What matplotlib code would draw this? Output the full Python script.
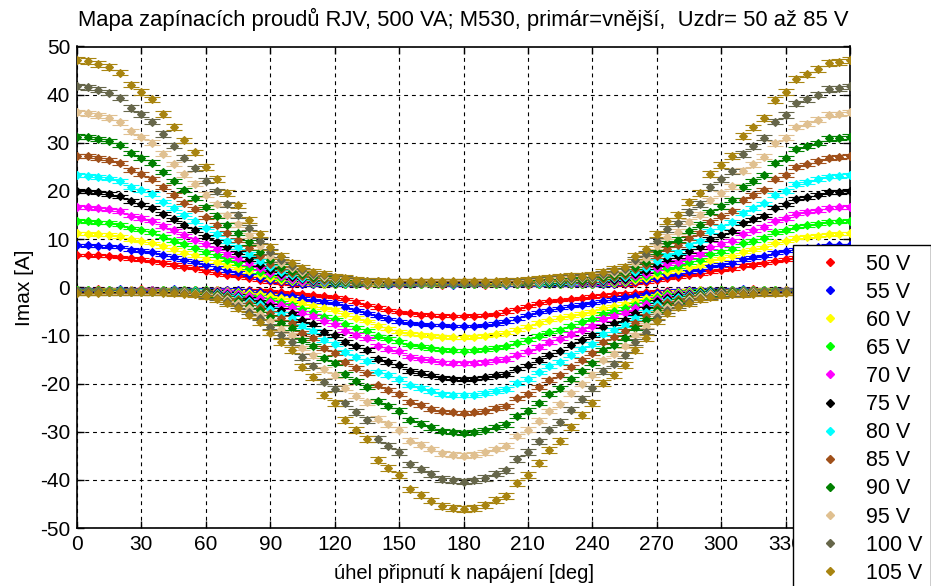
import matplotlib
matplotlib.use("Agg")
import matplotlib.pyplot as plt
from matplotlib.lines import Line2D

plt.rcParams['font.family'] = ['Liberation Sans', 'DejaVu Sans']
plt.rcParams['axes.unicode_minus'] = False

# switching angle, 0..360 deg in 5 deg steps
angle_deg = list(range(0, 361, 5))

voltage_labels = ['50 V', '55 V', '60 V', '65 V', '70 V', '75 V',
                  '80 V', '85 V', '90 V', '95 V', '100 V', '105 V']

# half-width of the error bars [A] for each supply voltage
err_amp = [0.25, 0.25, 0.3, 0.3, 0.35, 0.35, 0.4, 0.4, 0.45, 0.5, 0.55, 0.6]

# positive peak of the inrush current [A]
pos_50 = [6.7, 6.7, 6.6, 6.5, 6.3, 6.0, 5.8, 5.5, 5.1, 4.7, 4.3, 4.0,
          3.4, 3.0, 2.6, 2.3, 1.9, 1.5, 1.2, 0.9, 0.7, 0.6, 0.6, 0.6,
          0.6, 0.6, 0.6, 0.5, 0.6, 0.6, 0.5, 0.6, 0.6, 0.6, 0.5, 0.6,
          0.6, 0.6, 0.5, 0.6, 0.6, 0.6, 0.5, 0.6, 0.6, 0.6, 0.6, 0.6,
          0.6, 0.6, 0.6, 0.6, 0.9, 1.1, 1.6, 1.9, 2.1, 2.5, 2.8, 3.3,
          3.6, 3.9, 4.5, 4.7, 5.0, 5.5, 5.8, 6.2, 6.3, 6.4, 6.6, 6.6,
          6.7]
pos_55 = [8.8, 8.7, 8.6, 8.5, 8.3, 7.8, 7.6, 7.3, 6.7, 6.2, 5.7, 5.2,
          4.6, 4.1, 3.5, 3.1, 2.5, 2.0, 1.6, 1.2, 0.9, 0.7, 0.6, 0.6,
          0.6, 0.6, 0.6, 0.6, 0.6, 0.5, 0.6, 0.6, 0.6, 0.6, 0.6, 0.5,
          0.6, 0.6, 0.6, 0.6, 0.5, 0.6, 0.6, 0.6, 0.6, 0.6, 0.6, 0.6,
          0.6, 0.6, 0.7, 0.8, 1.2, 1.5, 2.0, 2.5, 2.8, 3.3, 3.6, 4.4,
          4.7, 5.1, 5.8, 6.2, 6.5, 7.2, 7.5, 8.0, 8.2, 8.4, 8.7, 8.7,
          8.8]
pos_60 = [11.2, 11.1, 11.0, 10.9, 10.6, 10.0, 9.6, 9.2, 8.5, 7.9, 7.2, 6.6,
          5.9, 5.3, 4.6, 4.0, 3.3, 2.6, 2.0, 1.5, 1.2, 1.0, 0.8, 0.7,
          0.7, 0.7, 0.7, 0.7, 0.6, 0.7, 0.7, 0.7, 0.7, 0.6, 0.7, 0.7,
          0.7, 0.7, 0.7, 0.6, 0.7, 0.7, 0.7, 0.7, 0.7, 0.7, 0.7, 0.7,
          0.7, 0.8, 0.9, 1.0, 1.5, 1.9, 2.6, 3.2, 3.6, 4.2, 4.6, 5.6,
          6.0, 6.5, 7.4, 7.9, 8.3, 9.2, 9.6, 10.3, 10.5, 10.7, 11.0, 11.1,
          11.2]
pos_65 = [13.8, 13.7, 13.5, 13.4, 13.0, 12.3, 11.9, 11.4, 10.5, 9.7, 8.9, 8.2,
          7.3, 6.6, 5.7, 5.0, 4.1, 3.2, 2.5, 1.9, 1.5, 1.2, 0.9, 0.8,
          0.7, 0.7, 0.7, 0.7, 0.7, 0.7, 0.7, 0.7, 0.7, 0.7, 0.7, 0.7,
          0.7, 0.7, 0.7, 0.7, 0.7, 0.7, 0.7, 0.7, 0.7, 0.7, 0.7, 0.7,
          0.7, 0.9, 1.1, 1.3, 1.9, 2.3, 3.2, 4.0, 4.4, 5.2, 5.7, 6.9,
          7.4, 8.0, 9.2, 9.7, 10.3, 11.4, 11.8, 12.6, 12.9, 13.2, 13.6, 13.7,
          13.8]
pos_70 = [16.7, 16.6, 16.4, 16.2, 15.8, 14.9, 14.4, 13.8, 12.7, 11.8, 10.8, 9.9,
          8.9, 8.0, 6.9, 6.0, 5.0, 3.9, 3.0, 2.3, 1.8, 1.4, 1.1, 1.0,
          0.8, 0.8, 0.8, 0.8, 0.8, 0.8, 0.8, 0.8, 0.8, 0.8, 0.8, 0.8,
          0.8, 0.8, 0.8, 0.8, 0.8, 0.8, 0.8, 0.8, 0.8, 0.8, 0.8, 0.8,
          0.9, 1.1, 1.3, 1.5, 2.3, 2.8, 3.9, 4.9, 5.3, 6.3, 6.9, 8.3,
          9.0, 9.7, 11.1, 11.8, 12.5, 13.8, 14.3, 15.3, 15.7, 16.0, 16.5, 16.6,
          16.7]
pos_75 = [20.0, 19.9, 19.7, 19.4, 18.9, 17.9, 17.2, 16.5, 15.3, 14.1, 12.9, 11.9,
          10.6, 9.5, 8.3, 7.2, 5.9, 4.7, 3.6, 2.8, 2.1, 1.7, 1.4, 1.2,
          0.9, 0.8, 0.8, 0.8, 0.8, 0.8, 0.8, 0.8, 0.8, 0.8, 0.8, 0.8,
          0.8, 0.8, 0.8, 0.8, 0.8, 0.8, 0.8, 0.8, 0.9, 0.9, 1.0, 1.0,
          1.1, 1.4, 1.6, 1.8, 2.8, 3.4, 4.7, 5.8, 6.4, 7.5, 8.3, 10.0,
          10.8, 11.6, 13.3, 14.1, 14.9, 16.5, 17.2, 18.4, 18.7, 19.2, 19.8, 19.8,
          20.0]
pos_80 = [23.3, 23.2, 22.9, 22.6, 22.0, 20.8, 20.1, 19.3, 17.8, 16.5, 15.1, 13.8,
          12.4, 11.1, 9.6, 8.4, 6.9, 5.4, 4.2, 3.2, 2.5, 2.0, 1.6, 1.4,
          1.1, 0.9, 0.9, 0.9, 0.9, 0.9, 0.9, 0.9, 0.9, 0.9, 0.9, 0.9,
          0.9, 0.9, 0.9, 0.9, 0.9, 0.9, 0.9, 0.9, 1.0, 1.1, 1.1, 1.2,
          1.2, 1.6, 1.9, 2.1, 3.2, 3.9, 5.4, 6.8, 7.4, 8.7, 9.7, 11.6,
          12.6, 13.5, 15.5, 16.4, 17.4, 19.2, 20.0, 21.4, 21.8, 22.4, 23.0, 23.1,
          23.3]
pos_85 = [27.3, 27.2, 26.8, 26.5, 25.8, 24.3, 23.5, 22.5, 20.8, 19.2, 17.6, 16.2,
          14.5, 13.0, 11.3, 9.8, 8.1, 6.4, 4.9, 3.8, 2.9, 2.3, 1.8, 1.6,
          1.3, 1.1, 0.9, 0.9, 0.9, 0.9, 0.9, 0.9, 0.9, 0.9, 0.9, 0.9,
          0.9, 0.9, 0.9, 0.9, 0.9, 0.9, 0.9, 1.0, 1.2, 1.3, 1.3, 1.4,
          1.4, 1.8, 2.2, 2.5, 3.8, 4.6, 6.4, 7.9, 8.7, 10.2, 11.3, 13.6,
          14.7, 15.8, 18.1, 19.2, 20.3, 22.5, 23.4, 25.0, 25.5, 26.2, 26.9, 27.0,
          27.3]
pos_90 = [31.3, 31.2, 30.8, 30.4, 29.6, 27.9, 26.9, 25.9, 23.9, 22.1, 20.2, 18.6,
          16.6, 14.9, 12.9, 11.3, 9.3, 7.3, 5.6, 4.3, 3.3, 2.7, 2.1, 1.9,
          1.5, 1.3, 1.1, 1.0, 1.0, 1.0, 1.0, 1.0, 1.0, 1.0, 1.0, 1.0,
          1.0, 1.0, 1.0, 1.0, 1.0, 1.0, 1.1, 1.2, 1.3, 1.5, 1.5, 1.6,
          1.7, 2.1, 2.5, 2.9, 4.3, 5.2, 7.3, 9.1, 9.9, 11.7, 13.0, 15.6,
          16.8, 18.1, 20.8, 22.0, 23.3, 25.8, 26.9, 28.7, 29.3, 30.0, 30.9, 31.0,
          31.3]
pos_95 = [36.3, 36.1, 35.7, 35.2, 34.3, 32.4, 31.2, 30.0, 27.7, 25.6, 23.5, 21.5,
          19.2, 17.3, 15.0, 13.1, 10.8, 8.5, 6.5, 5.0, 3.9, 3.1, 2.5, 2.2,
          1.7, 1.5, 1.2, 1.1, 1.0, 1.0, 1.0, 1.0, 1.0, 1.0, 1.0, 1.0,
          1.0, 1.0, 1.0, 1.0, 1.0, 1.1, 1.2, 1.4, 1.5, 1.7, 1.8, 1.9,
          1.9, 2.5, 2.9, 3.3, 5.0, 6.1, 8.5, 10.5, 11.5, 13.6, 15.1, 18.1,
          19.5, 21.0, 24.2, 25.5, 27.1, 29.9, 31.1, 33.3, 34.0, 34.8, 35.8, 36.0,
          36.3]
pos_100 = [41.7, 41.5, 41.0, 40.4, 39.4, 37.2, 35.9, 34.4, 31.8, 29.4, 26.9, 24.7,
           22.1, 19.9, 17.2, 15.0, 12.4, 9.7, 7.4, 5.7, 4.4, 3.5, 2.8, 2.5,
           1.9, 1.7, 1.4, 1.2, 1.2, 1.1, 1.1, 1.1, 1.1, 1.1, 1.1, 1.1,
           1.1, 1.1, 1.1, 1.1, 1.2, 1.2, 1.4, 1.6, 1.8, 1.9, 2.0, 2.1,
           2.2, 2.8, 3.4, 3.8, 5.7, 7.0, 9.7, 12.1, 13.3, 15.6, 17.3, 20.8,
           22.4, 24.1, 27.7, 29.3, 31.1, 34.4, 35.8, 38.2, 39.0, 40.0, 41.2, 41.3,
           41.7]
pos_105 = [47.2, 47.0, 46.4, 45.8, 44.6, 42.1, 40.6, 39.0, 36.0, 33.3, 30.5, 28.0,
           25.0, 22.5, 19.5, 17.0, 14.0, 11.0, 8.4, 6.5, 5.0, 4.0, 3.2, 2.8,
           2.2, 1.9, 1.6, 1.4, 1.3, 1.2, 1.2, 1.2, 1.2, 1.2, 1.2, 1.2,
           1.2, 1.2, 1.2, 1.2, 1.3, 1.4, 1.6, 1.8, 2.0, 2.2, 2.3, 2.4,
           2.5, 3.2, 3.8, 4.3, 6.5, 7.9, 11.0, 13.7, 15.0, 17.7, 19.6, 23.5,
           25.4, 27.3, 31.4, 33.2, 35.2, 38.9, 40.5, 43.3, 44.2, 45.3, 46.6, 46.8,
           47.2]

# negative peak of the inrush current [A]
neg_50 = [-0.5, -0.5, -0.4, -0.5, -0.5, -0.5, -0.4, -0.5, -0.5, -0.5, -0.5, -0.5,
          -0.5, -0.5, -0.5, -0.6, -0.6, -0.7, -0.8, -1.0, -1.2, -1.4, -1.6, -1.8,
          -2.0, -2.4, -3.0, -3.7, -4.2, -4.7, -5.1, -5.4, -5.7, -5.8, -5.9, -6.0,
          -6.0, -5.9, -5.8, -5.5, -5.0, -4.5, -3.9, -3.3, -2.9, -2.6, -2.4, -2.2,
          -1.9, -1.7, -1.5, -1.3, -1.2, -1.0, -0.9, -0.8, -0.7, -0.6, -0.5, -0.5,
          -0.5, -0.5, -0.5, -0.4, -0.5, -0.5, -0.5, -0.5, -0.4, -0.5, -0.5, -0.5,
          -0.5]
neg_55 = [-0.5, -0.5, -0.5, -0.5, -0.4, -0.5, -0.5, -0.5, -0.5, -0.4, -0.5, -0.5,
          -0.5, -0.5, -0.5, -0.6, -0.8, -1.0, -1.3, -1.6, -1.9, -2.3, -2.7, -3.0,
          -3.3, -4.0, -4.7, -5.3, -6.0, -6.6, -7.1, -7.4, -7.6, -7.8, -7.9, -8.0,
          -8.0, -8.0, -7.8, -7.5, -7.1, -6.5, -5.8, -5.2, -4.7, -4.3, -3.9, -3.6,
          -3.3, -2.8, -2.4, -2.1, -1.8, -1.5, -1.2, -0.9, -0.7, -0.6, -0.5, -0.5,
          -0.5, -0.5, -0.4, -0.5, -0.5, -0.5, -0.5, -0.5, -0.5, -0.4, -0.5, -0.5,
          -0.5]
neg_60 = [-0.6, -0.6, -0.6, -0.5, -0.6, -0.6, -0.6, -0.6, -0.5, -0.6, -0.6, -0.6,
          -0.6, -0.6, -0.7, -0.9, -1.1, -1.4, -1.8, -2.2, -2.6, -3.3, -3.8, -4.3,
          -4.7, -5.6, -6.3, -7.0, -8.0, -8.6, -9.2, -9.6, -9.9, -10.1, -10.3, -10.4,
          -10.4, -10.3, -10.1, -9.8, -9.4, -8.8, -8.2, -7.4, -6.8, -6.3, -5.9, -5.5,
          -5.1, -4.3, -3.9, -3.4, -2.8, -2.2, -1.6, -1.2, -0.9, -0.7, -0.6, -0.6,
          -0.6, -0.6, -0.6, -0.6, -0.5, -0.6, -0.6, -0.6, -0.6, -0.6, -0.5, -0.6,
          -0.6]
neg_65 = [-0.6, -0.6, -0.6, -0.6, -0.6, -0.7, -0.6, -0.6, -0.6, -0.6, -0.6, -0.6,
          -0.6, -0.7, -0.9, -1.2, -1.6, -2.0, -2.6, -3.1, -3.6, -4.6, -5.2, -6.1,
          -6.6, -7.7, -8.4, -9.0, -10.2, -10.7, -11.2, -12.0, -12.3, -12.7, -13.0, -13.1,
          -13.2, -13.1, -12.9, -12.6, -12.3, -11.5, -10.9, -10.1, -9.3, -8.8, -8.0, -7.3,
          -6.6, -5.5, -5.0, -4.4, -3.6, -2.9, -2.0, -1.5, -1.2, -0.9, -0.7, -0.6,
          -0.6, -0.6, -0.6, -0.6, -0.6, -0.6, -0.7, -0.6, -0.6, -0.6, -0.6, -0.6,
          -0.6]
neg_70 = [-0.7, -0.7, -0.7, -0.7, -0.7, -0.7, -0.7, -0.6, -0.7, -0.7, -0.7, -0.7,
          -0.7, -0.8, -1.0, -1.3, -1.8, -2.3, -3.0, -3.6, -4.2, -5.3, -6.0, -7.1,
          -7.7, -9.0, -9.9, -10.6, -12.1, -12.8, -13.3, -14.4, -14.8, -15.2, -15.6, -15.7,
          -15.8, -15.7, -15.5, -15.2, -14.9, -14.0, -13.3, -12.4, -11.4, -10.7, -9.7, -8.8,
          -8.0, -6.6, -6.0, -5.3, -4.3, -3.5, -2.4, -1.8, -1.4, -1.1, -0.9, -0.7,
          -0.7, -0.7, -0.7, -0.7, -0.7, -0.7, -0.7, -0.7, -0.6, -0.7, -0.7, -0.7,
          -0.7]
neg_75 = [-0.7, -0.7, -0.7, -0.7, -0.7, -0.7, -0.7, -0.7, -0.7, -0.7, -0.7, -0.7,
          -0.8, -1.0, -1.4, -1.8, -2.4, -3.0, -3.9, -4.7, -5.4, -6.9, -7.7, -9.3,
          -10.0, -11.4, -12.3, -13.0, -14.9, -15.5, -16.2, -17.4, -17.8, -18.3, -18.8, -19.0,
          -19.1, -19.0, -18.7, -18.3, -18.0, -16.9, -16.2, -15.1, -14.0, -13.3, -12.0, -11.0,
          -9.9, -8.2, -7.5, -6.7, -5.4, -4.4, -2.9, -2.2, -1.7, -1.4, -1.0, -0.8,
          -0.7, -0.7, -0.7, -0.7, -0.7, -0.7, -0.7, -0.7, -0.7, -0.7, -0.7, -0.7,
          -0.7]
neg_80 = [-0.8, -0.8, -0.8, -0.8, -0.8, -0.8, -0.8, -0.8, -0.8, -0.8, -0.8, -0.8,
          -0.9, -1.2, -1.6, -2.1, -2.8, -3.5, -4.6, -5.5, -6.3, -8.1, -9.0, -10.9,
          -11.7, -13.4, -14.4, -15.3, -17.5, -18.2, -19.0, -20.4, -21.0, -21.5, -22.1, -22.3,
          -22.4, -22.3, -22.0, -21.5, -21.1, -19.8, -19.0, -17.7, -16.4, -15.6, -14.1, -12.9,
          -11.7, -9.7, -8.9, -7.8, -6.3, -5.1, -3.5, -2.6, -2.0, -1.6, -1.2, -1.0,
          -0.9, -0.8, -0.8, -0.8, -0.8, -0.8, -0.8, -0.8, -0.8, -0.8, -0.8, -0.8,
          -0.8]
neg_85 = [-0.8, -0.8, -0.8, -0.8, -0.8, -0.8, -0.8, -0.8, -0.8, -0.8, -0.8, -0.9,
          -1.0, -1.4, -1.9, -2.4, -3.3, -4.1, -5.3, -6.4, -7.4, -9.4, -10.6, -12.7,
          -13.7, -15.6, -16.8, -17.9, -20.4, -21.3, -22.2, -23.9, -24.5, -25.2, -25.8, -26.0,
          -26.2, -26.0, -25.7, -25.1, -24.7, -23.1, -22.2, -20.7, -19.2, -18.2, -16.5, -15.1,
          -13.6, -11.3, -10.3, -9.1, -7.4, -6.0, -4.0, -3.1, -2.4, -1.9, -1.4, -1.1,
          -0.9, -0.8, -0.8, -0.8, -0.8, -0.8, -0.8, -0.8, -0.8, -0.8, -0.8, -0.8,
          -0.8]
neg_90 = [-0.9, -0.9, -0.9, -0.9, -0.9, -0.9, -0.9, -0.9, -0.9, -0.9, -0.9, -1.0,
          -1.2, -1.6, -2.2, -2.8, -3.8, -4.7, -6.2, -7.4, -8.5, -10.9, -12.2, -14.7,
          -15.8, -18.1, -19.5, -20.7, -23.6, -24.6, -25.6, -27.6, -28.3, -29.1, -29.8, -30.1,
          -30.3, -30.1, -29.7, -29.0, -28.5, -26.7, -25.6, -24.0, -22.2, -21.0, -19.1, -17.4,
          -15.8, -13.1, -12.0, -10.6, -8.5, -6.9, -4.7, -3.6, -2.8, -2.2, -1.6, -1.3,
          -1.1, -1.0, -0.9, -0.9, -0.9, -0.9, -0.9, -0.9, -0.9, -0.9, -0.9, -0.9,
          -0.9]
neg_95 = [-0.9, -0.9, -0.9, -0.9, -0.9, -0.9, -0.9, -0.9, -0.9, -0.9, -1.0, -1.1,
          -1.4, -1.9, -2.5, -3.3, -4.4, -5.5, -7.1, -8.6, -9.9, -12.6, -14.1, -17.0,
          -18.3, -20.9, -22.5, -23.9, -27.3, -28.5, -29.6, -31.9, -32.7, -33.6, -34.5, -34.8,
          -35.0, -34.8, -34.3, -33.6, -32.9, -30.9, -29.6, -27.7, -25.7, -24.3, -22.0, -20.1,
          -18.2, -15.1, -13.8, -12.2, -9.9, -8.0, -5.4, -4.1, -3.2, -2.5, -1.9, -1.5,
          -1.2, -1.1, -1.0, -1.0, -0.9, -0.9, -0.9, -0.9, -0.9, -0.9, -0.9, -0.9,
          -0.9]
neg_100 = [-1.0, -1.0, -1.0, -1.0, -1.0, -1.0, -1.0, -1.0, -1.0, -1.0, -1.1, -1.3,
           -1.6, -2.2, -2.9, -3.8, -5.1, -6.3, -8.2, -9.9, -11.4, -14.5, -16.3, -19.6,
           -21.1, -24.1, -25.9, -27.6, -31.5, -32.9, -34.2, -36.8, -37.8, -38.8, -39.8, -40.1,
           -40.4, -40.1, -39.6, -38.7, -38.0, -35.7, -34.2, -32.0, -29.6, -28.0, -25.4, -23.2,
           -21.0, -17.4, -15.9, -14.1, -11.4, -9.2, -6.2, -4.7, -3.7, -2.9, -2.2, -1.8,
           -1.4, -1.3, -1.2, -1.1, -1.0, -1.0, -1.0, -1.0, -1.0, -1.0, -1.0, -1.0,
           -1.0]
neg_105 = [-1.1, -1.1, -1.1, -1.0, -1.0, -1.0, -1.0, -1.0, -1.1, -1.2, -1.3, -1.5,
           -1.8, -2.5, -3.3, -4.3, -5.8, -7.2, -9.4, -11.3, -13.0, -16.6, -18.6, -22.4,
           -24.1, -27.5, -29.6, -31.5, -35.9, -37.5, -39.0, -42.0, -43.1, -44.3, -45.4, -45.8,
           -46.1, -45.8, -45.2, -44.2, -43.4, -40.7, -39.0, -36.5, -33.8, -32.0, -29.0, -26.5,
           -24.0, -19.9, -18.2, -16.1, -13.0, -10.5, -7.1, -5.4, -4.2, -3.3, -2.5, -2.0,
           -1.6, -1.5, -1.4, -1.3, -1.2, -1.2, -1.1, -1.1, -1.1, -1.0, -1.0, -1.0,
           -1.1]

pos_series = [pos_50, pos_55, pos_60, pos_65, pos_70, pos_75,
              pos_80, pos_85, pos_90, pos_95, pos_100, pos_105]
neg_series = [neg_50, neg_55, neg_60, neg_65, neg_70, neg_75,
              neg_80, neg_85, neg_90, neg_95, neg_100, neg_105]

colors = ['#ff0000', '#0000ff', '#ffff00', '#00ff00', '#ff00ff', '#000000',
          '#00ffff', '#a0501a', '#008000', '#e0c090', '#66664a', '#a88410']

W, H = 931, 586
fig = plt.figure(figsize=(W / 100, H / 100), dpi=100)
ax = fig.add_axes([77 / W, 1 - 528 / H, (850 - 77) / W, (528 - 46.5) / H])

for color, err, pos, neg in zip(colors, err_amp, pos_series, neg_series):
    for series in (pos, neg):
        ax.errorbar(angle_deg, series, yerr=err, fmt='D', linestyle='none',
                    color=color, ms=3.8, mew=0.8, elinewidth=1.3,
                    capsize=5.5, capthick=2.0, zorder=3)

ax.set_xlim(0, 360)
ax.set_ylim(-50, 50)
ax.set_xticks(range(0, 361, 30))
ax.set_yticks(range(-50, 51, 10))
ax.set_axisbelow(True)
ax.grid(True, color='black', linestyle=(0, (3.5, 3.5)), linewidth=0.8)
ax.tick_params(direction='in', top=True, right=True, labelsize=15,
               length=5, width=1.0, pad=5, colors='black')
for sp in ax.spines.values():
    sp.set_linewidth(1.2)

ax.set_title('Mapa zapínacích proudů RJV, 500 VA; M530, primár=vnější,  Uzdr= 50 až 85 V',
             fontsize=15.8, pad=14.5)
ax.set_xlabel('úhel připnutí k napájení [deg]', fontsize=14.5, labelpad=7)
ax.set_ylabel('Imax [A]', fontsize=15, labelpad=4)

handles = [Line2D([], [], linestyle='none', marker='D', ms=4, color=c) for c in colors]
leg = ax.legend(handles, voltage_labels, loc='upper left',
                bbox_to_anchor=(793 / W, 1 - 245 / H), bbox_transform=fig.transFigure,
                frameon=True, fancybox=False, edgecolor='black', framealpha=1,
                fontsize=15.5, handlelength=2.6, handletextpad=0.4,
                labelspacing=0.33, borderpad=0.4, borderaxespad=0)
leg.get_frame().set_linewidth(1.0)
leg.set_zorder(10)

fig.savefig('out.png', dpi=100)
